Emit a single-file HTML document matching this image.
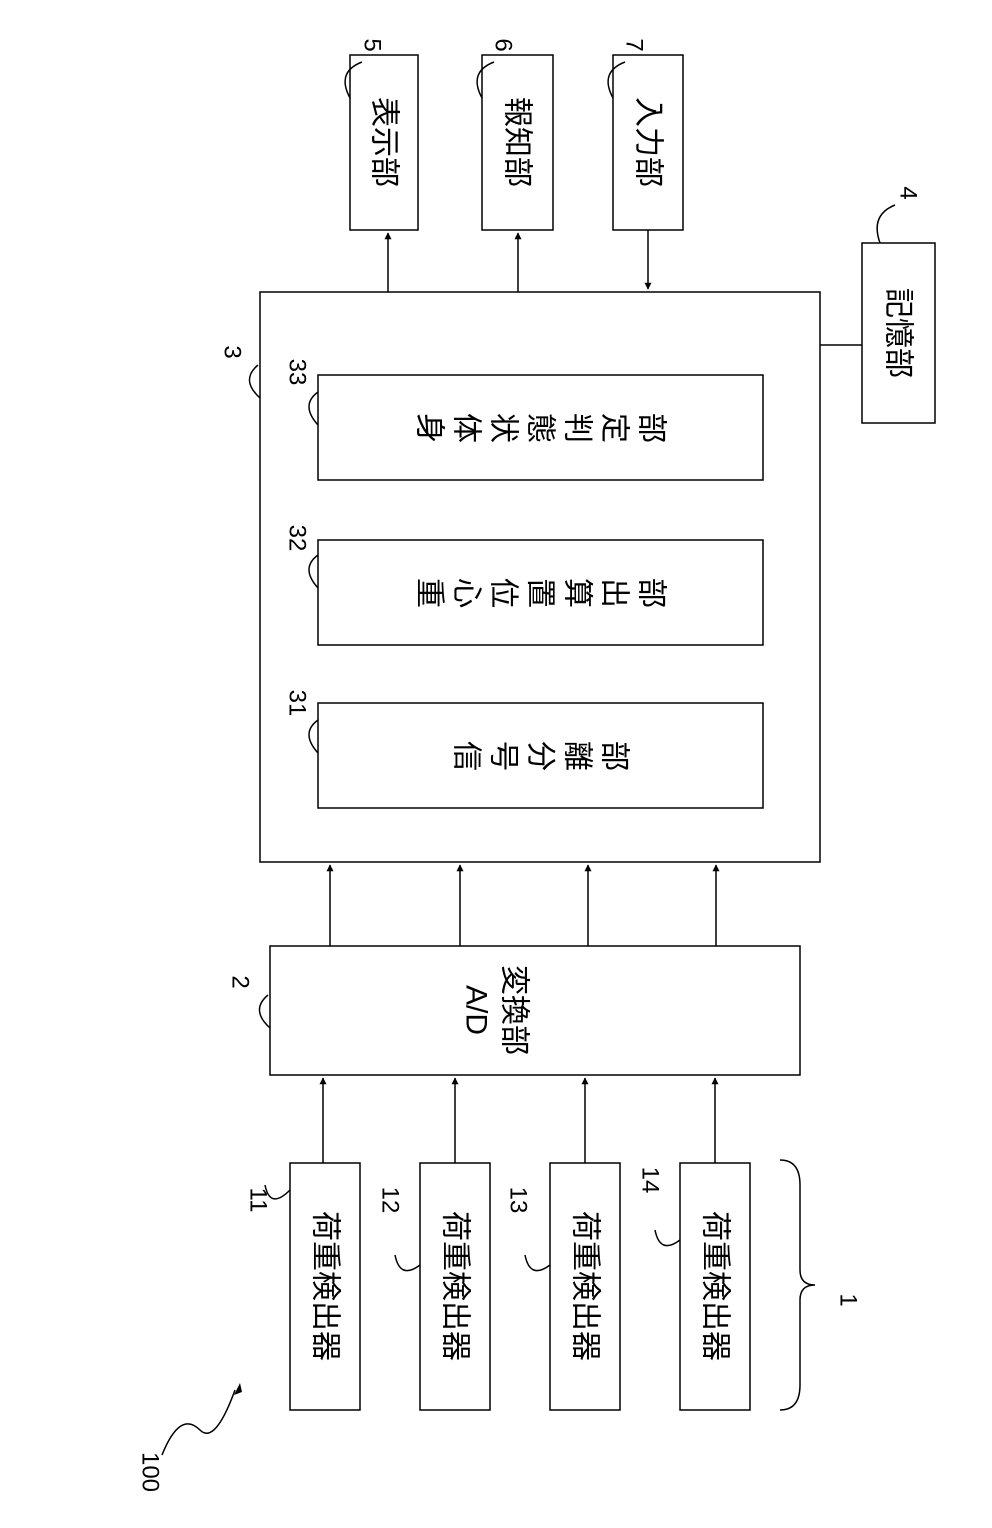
<!DOCTYPE html>
<html><head><meta charset="utf-8"><style>
html,body{margin:0;padding:0;background:#fff;}
svg{display:block;}
text{font-family:"Liberation Sans","Noto Sans CJK JP",sans-serif;fill:#000;}
</style></head><body>
<svg width="992" height="1528" viewBox="0 0 992 1528" xmlns="http://www.w3.org/2000/svg">
<defs><marker id="a" viewBox="0 0 10 10" refX="9" refY="5" markerWidth="7" markerHeight="9" orient="auto" markerUnits="userSpaceOnUse"><path d="M0,0 L10,5 L0,10 z" fill="#000"/></marker></defs>
<g fill="none" stroke="#000" stroke-width="1.5">
<rect x="350" y="55" width="68" height="175"/>
<rect x="482" y="55" width="71" height="175"/>
<rect x="613" y="55" width="70" height="175"/>
<rect x="862" y="243" width="73" height="180"/>
<rect x="260" y="292" width="560" height="570"/>
<rect x="318" y="375" width="445" height="105"/>
<rect x="318" y="540" width="445" height="105"/>
<rect x="318" y="703" width="445" height="105"/>
<line x1="820" y1="345" x2="862" y2="345"/>
<rect x="270" y="946" width="530" height="129"/>
<rect x="290" y="1163" width="70" height="247"/>
<rect x="420" y="1163" width="70" height="247"/>
<rect x="550" y="1163" width="70" height="247"/>
<rect x="680" y="1163" width="70" height="247"/>
<line x1="388" y1="292" x2="388" y2="233" marker-end="url(#a)"/>
<line x1="518" y1="292" x2="518" y2="233" marker-end="url(#a)"/>
<line x1="648" y1="230" x2="648" y2="289" marker-end="url(#a)"/>
<line x1="330" y1="946" x2="330" y2="865" marker-end="url(#a)"/>
<line x1="460" y1="946" x2="460" y2="865" marker-end="url(#a)"/>
<line x1="588" y1="946" x2="588" y2="865" marker-end="url(#a)"/>
<line x1="716" y1="946" x2="716" y2="865" marker-end="url(#a)"/>
<line x1="323" y1="1163" x2="323" y2="1078" marker-end="url(#a)"/>
<line x1="455" y1="1163" x2="455" y2="1078" marker-end="url(#a)"/>
<line x1="585" y1="1163" x2="585" y2="1078" marker-end="url(#a)"/>
<line x1="715" y1="1163" x2="715" y2="1078" marker-end="url(#a)"/>
<path d="M350,98 Q336,72 362,62"/>
<path d="M482,98 Q468,72 494,62"/>
<path d="M613,98 Q599,72 625,62"/>
<path d="M880,243 Q870,215 895,205"/>
<path d="M260,398 Q240,380 258,365"/>
<path d="M318,425 Q300,405 318,392"/>
<path d="M318,588 Q300,568 318,555"/>
<path d="M318,753 Q300,733 318,720"/>
<path d="M270,1028 Q250,1010 268,995"/>
<path d="M290,1190 Q270,1210 265,1185"/>
<path d="M420,1265 Q400,1280 395,1255"/>
<path d="M550,1265 Q530,1280 525,1255"/>
<path d="M680,1240 Q660,1255 655,1230"/>
<path d="M780,1160 Q800,1160 800,1185 L800,1270 Q800,1285 815,1285 Q800,1285 800,1300 L800,1385 Q800,1410 780,1410"/>
<path d="M162,1455 Q180,1410 200,1430 Q215,1445 235,1390"/>
</g>
<path d="M240,1383 l-6,12 l8,-3 z" fill="#000"/>
<g font-size="30" text-anchor="middle" dominant-baseline="central">
<text transform="translate(384,142) rotate(90)">表示部</text>
<text transform="translate(517,142) rotate(90)">報知部</text>
<text transform="translate(648,142) rotate(90)">入力部</text>
<text transform="translate(898,333) rotate(90)">記憶部</text>
<text transform="translate(429,428) rotate(90)">身</text>
<text transform="translate(466,428) rotate(90)">体</text>
<text transform="translate(503,428) rotate(90)">状</text>
<text transform="translate(540,428) rotate(90)">態</text>
<text transform="translate(577,428) rotate(90)">判</text>
<text transform="translate(614,428) rotate(90)">定</text>
<text transform="translate(651,428) rotate(90)">部</text>
<text transform="translate(429,593) rotate(90)">重</text>
<text transform="translate(466,593) rotate(90)">心</text>
<text transform="translate(503,593) rotate(90)">位</text>
<text transform="translate(540,593) rotate(90)">置</text>
<text transform="translate(577,593) rotate(90)">算</text>
<text transform="translate(614,593) rotate(90)">出</text>
<text transform="translate(651,593) rotate(90)">部</text>
<text transform="translate(466,756) rotate(90)">信</text>
<text transform="translate(503,756) rotate(90)">号</text>
<text transform="translate(540,756) rotate(90)">分</text>
<text transform="translate(577,756) rotate(90)">離</text>
<text transform="translate(614,756) rotate(90)">部</text>
<text transform="translate(476,1010) rotate(90)">A/D</text>
<text transform="translate(514,1010) rotate(90)">変換部</text>
<text transform="translate(325,1286) rotate(90)">荷重検出器</text>
<text transform="translate(455,1286) rotate(90)">荷重検出器</text>
<text transform="translate(585,1286) rotate(90)">荷重検出器</text>
<text transform="translate(715,1286) rotate(90)">荷重検出器</text>
</g>
<g font-size="24" text-anchor="middle" dominant-baseline="central">
<text transform="translate(372,45) rotate(90)">5</text>
<text transform="translate(503,45) rotate(90)">6</text>
<text transform="translate(634,45) rotate(90)">7</text>
<text transform="translate(908,193) rotate(90)">4</text>
<text transform="translate(232,352) rotate(90)">3</text>
<text transform="translate(297,372) rotate(90)">33</text>
<text transform="translate(297,538) rotate(90)">32</text>
<text transform="translate(297,703) rotate(90)">31</text>
<text transform="translate(240,982) rotate(90)">2</text>
<text transform="translate(258,1200) rotate(90)">11</text>
<text transform="translate(390,1200) rotate(90)">12</text>
<text transform="translate(518,1200) rotate(90)">13</text>
<text transform="translate(650,1180) rotate(90)">14</text>
<text transform="translate(848,1300) rotate(90)">1</text>
<text transform="translate(150,1472) rotate(90)">100</text>
</g>
</svg>
</body></html>
